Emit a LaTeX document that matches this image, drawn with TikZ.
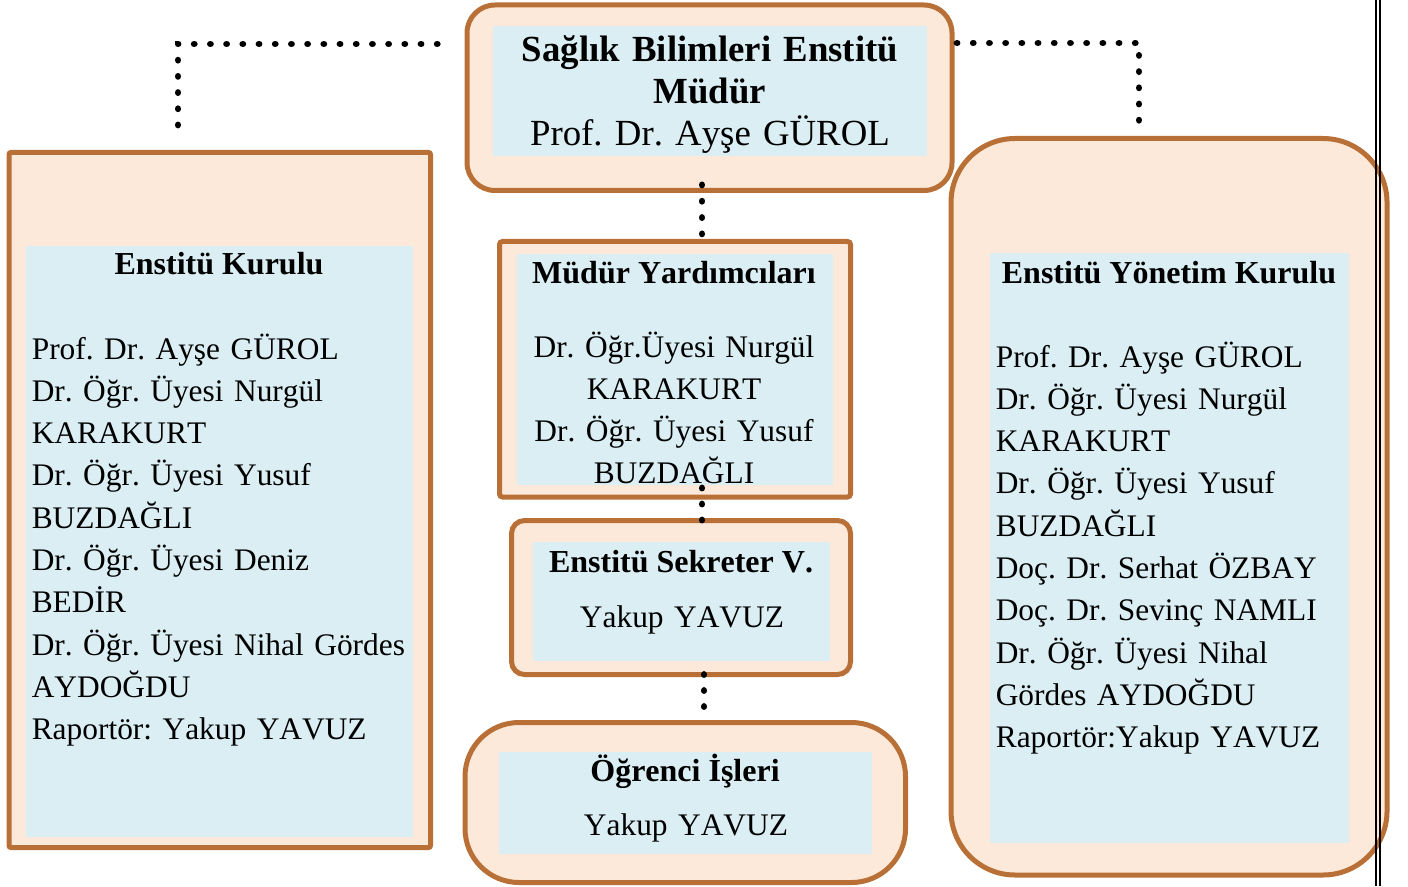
\documentclass[tikz,border=0pt]{standalone}
\usepackage{fontspec}
\setmainfont{Liberation Serif}[Kerning=Off]
\usetikzlibrary{fit}
\definecolor{boxbrown}{RGB}{184,112,54}
\definecolor{boxpeach}{RGB}{253,233,217}
\definecolor{boxblue}{RGB}{218,238,243}
\frenchspacing

\begin{document}
\begin{tikzpicture}[
  x=0.25pt, y=-0.25pt,
  unit/.style={draw=boxbrown, fill=boxpeach, line width=1.25pt, inner sep=0pt, outer sep=0pt},
  panel/.style={fill=boxblue},
  head/.style={font=\bfseries\fontsize{8}{10.6}\selectfont, inner sep=0pt, anchor=base},
  names/.style={font=\fontsize{7.85}{10.575}\selectfont, inner sep=0pt, anchor=base west,
                align=left, text width=98pt},
  cnames/.style={font=\fontsize{7.85}{10.5}\selectfont, inner sep=0pt, anchor=base,
                 align=center, text width=80pt},
  dotline/.style={line width=1.7pt, line cap=round, dash pattern=on 0.01pt off 4.04pt}
]
\useasboundingbox (0,0) rectangle (1408,886);

% outer boxes
\node[unit, rounded corners=7pt, fit={(467,5) (952,190.5)}] (mudur) {};
\node[unit, rounded corners=0.5pt, fit={(9,152.5) (430.5,847.5)}] (kurul) {};
\node[unit, rounded corners=16pt, fit={(951,138.5) (1387,875)}] (yonetim) {};
\node[unit, rounded corners=0.75pt, fit={(499.5,241.5) (850.5,497)}] (yard) {};
\node[unit, rounded corners=3.25pt, fit={(511.5,520.5) (850.5,674.5)}] (sekr) {};
\node[unit, rounded corners=13.5pt, fit={(465,722.5) (905.5,882.5)}] (ogr) {};

% blue panels
\fill[panel] (493,26) rectangle (927,156);
\fill[panel] (26,246) rectangle (413,837);
\fill[panel] (990,253) rectangle (1349,843);
\fill[panel] (517,254) rectangle (833,485);
\fill[panel] (533,542) rectangle (830,661);
\fill[panel] (499,752) rectangle (872,854);

% texts
\node[cnames, font=\fontsize{9.2}{10.5}\selectfont, text width=112pt] (mudurtxt) at (710,62)
  {\textbf{Sağlık Bilimleri Enstitü}\\\textbf{Müdür}\\Prof. Dr. Ayşe GÜROL};

\node[head] (kurulhead) at (219,275) {Enstitü Kurulu};
\node[names] (kurultxt) at (31,359) {Prof. Dr. Ayşe GÜROL\\Dr. Öğr. Üyesi Nurgül\\KARAKURT\\
  Dr. Öğr. Üyesi Yusuf\\BUZDAĞLI\\Dr. Öğr. Üyesi Deniz\\BEDİR\\
  Dr. Öğr. Üyesi Nihal Gördes\\AYDOĞDU\\Raportör: Yakup YAVUZ};

\node[head] (yardhead) at (674,283) {Müdür Yardımcıları};
\node[cnames] (yardtxt) at (674,357) {Dr. Öğr.Üyesi Nurgül\\KARAKURT\\Dr. Öğr. Üyesi Yusuf\\BUZDAĞLI};

\node[head] (sekrhead) at (681,572) {Enstitü Sekreter V.};
\node[cnames] (sekrtxt) at (682,627) {Yakup YAVUZ};

\node[head] (ogrhead) at (685,781) {Öğrenci İşleri};
\node[cnames] (ogrtxt) at (686,835) {Yakup YAVUZ};

\node[head] (yonhead) at (1169,283) {Enstitü Yönetim Kurulu};
\node[names, text width=88pt] (yontxt) at (995,367) {Prof. Dr. Ayşe GÜROL\\Dr. Öğr. Üyesi Nurgül\\KARAKURT\\
  Dr. Öğr. Üyesi Yusuf\\BUZDAĞLI\\Doç. Dr. Serhat ÖZBAY\\Doç. Dr. Sevinç NAMLI\\
  Dr. Öğr. Üyesi Nihal\\Gördes AYDOĞDU\\Raportör:Yakup YAVUZ};

% dotted links
\coordinate (lc) at (178,44);
\coordinate (rc) at (1139,43);
\coordinate (mid) at (702,0);
\coordinate (mid2) at (704,0);
\draw[dotline, shorten >=6.5pt] ([yshift=6.875pt]kurul.north -| lc) -- (lc) -- (mudur.west |- lc);
\draw[dotline, shorten >=2.6pt] ([xshift=1.25pt]mudur.east |- rc) -- (rc) -- (yonetim.north -| rc);
\draw[dotline, dash pattern=on 0.01pt off 4.07pt] ([yshift=1.4pt]mudur.south -| mid) -- ([yshift=0.875pt]yard.north -| mid);
\draw[dotline, dash pattern=on 0.01pt off 3.99pt] ([yshift=2.25pt]yard.south -| mid) -- ([yshift=-0.875pt]sekr.north -| mid);
\draw[dotline, dash pattern=on 0.01pt off 3.99pt] (sekr.south -| mid2) -- ([yshift=2.875pt]ogr.north -| mid2);

% page edge
\draw[line width=0.5pt] (1376,0) -- (1376,886);
\draw[line width=0.5pt] (1379.7,0) -- (1379.7,886);
\end{tikzpicture}
\end{document}
